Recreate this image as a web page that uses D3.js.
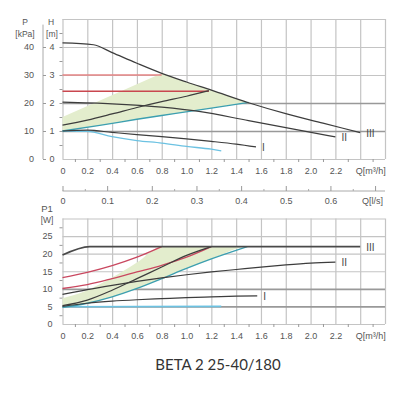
<!doctype html>
<html lang="en">
<head>
<meta charset="UTF-8">
<title>BETA 2 25-40/180</title>
<script src="https://cdn.jsdelivr.net/npm/d3@7"></script>
<style>
  body { margin: 0; background: #fff; }
  svg text { font-family: "Liberation Sans", Arial, sans-serif; }
  svg text.title { font-family: Lato, "Open Sans", sans-serif; }
</style>
</head>
<body>
<script>
  // tick values / labels
  var qTicks = [0, 0.2, 0.4, 0.6, 0.8, 1.0, 1.2, 1.4, 1.6, 1.8, 2.0, 2.2, 2.4];
  var qLabels = ["0", "0.2", "0.4", "0.6", "0.8", "1.0", "1.2", "1.4", "1.6", "1.8", "2.0", "2.2", "Q[m\u00b3/h]"];
  var lsTicks = [0, 0.1, 0.2, 0.3, 0.4, 0.5, 0.6, 0.7];
  var lsLabels = ["0", "0.1", "0.2", "0.3", "0.4", "0.5", "0.6", "Q[l/s]"];
  var hTicks = [0, 1, 2, 3, 4];
  var kpaTicks = [0, 10, 20, 30, 40];
  var wTicks = [0, 5, 10, 15, 20, 25];
  var curveNames = ["I", "II", "III"];

  // head curves H [m] vs Q [m3/h]
  var headIII = [[0, 4.15], [0.25, 4.08], [0.4, 3.8], [0.6, 3.42], [0.8, 3.06], [1.0, 2.75], [1.2, 2.46], [1.5, 2.01], [1.8, 1.62], [2.1, 1.28], [2.4, 0.94]];
  var headII = [[0, 2.03], [0.4, 1.97], [0.8, 1.85], [1.1, 1.7], [1.5, 1.37], [1.8, 1.12], [2.2, 0.79]];
  var headI = [[0, 1.0], [0.2, 1.03], [0.4, 0.95], [0.6, 0.87], [0.8, 0.8], [1.0, 0.72], [1.2, 0.63], [1.4, 0.53], [1.56, 0.43]];
  var headMin = [[0, 1.0], [0.2, 0.99], [0.4, 0.8], [0.6, 0.66], [0.8, 0.57], [1.0, 0.45], [1.2, 0.35], [1.28, 0.29]];
  var headCp1 = [[0, 3.0], [0.8, 3.0]];
  var headCp2 = [[0, 2.42], [1.18, 2.42]];
  var headPp1 = [[0, 1.21], [0.2, 1.39], [0.4, 1.61], [0.6, 1.84], [0.8, 2.05], [1.0, 2.24], [1.18, 2.44]];
  var headPp2 = [[0, 1.0], [0.3, 1.2], [0.6, 1.42], [0.9, 1.62], [1.2, 1.82], [1.5, 2.02]];
  var headZoneEdge = [[0, 1.5], [0.8, 3.06]];

  // power curves P1 [W] vs Q [m3/h]
  var powerIII = [[0, 19.6], [0.22, 22], [2.4, 22]];
  var powerII = [[0, 8.4], [0.2, 9.8], [0.4, 11.0], [0.6, 12.1], [0.8, 13.1], [1.0, 14.0], [1.2, 14.8], [1.4, 15.5], [1.6, 16.2], [1.8, 16.8], [2.0, 17.3], [2.2, 17.6]];
  var powerI = [[0, 5.0], [0.2, 5.9], [0.4, 6.5], [0.6, 6.9], [0.8, 7.2], [1.0, 7.5], [1.2, 7.7], [1.4, 7.9], [1.57, 8.0]];
  var powerMin = [[0, 4.9], [1.28, 5.0]];
  var powerCp1 = [[0, 13.2], [0.2, 14.7], [0.4, 16.6], [0.6, 19.0], [0.8, 22]];
  var powerCp2 = [[0, 10.1], [0.2, 11.2], [0.4, 12.9], [0.6, 14.8], [0.8, 16.7], [1.0, 19.0], [1.2, 22]];
  var powerPp1 = [[0, 5.2], [0.2, 6.8], [0.4, 9.6], [0.6, 12.9], [0.8, 16.2], [1.0, 19.5], [1.2, 22]];
  var powerPp2 = [[0, 4.7], [0.2, 5.9], [0.4, 7.7], [0.6, 10.1], [0.8, 12.9], [1.0, 15.8], [1.2, 18.5], [1.49, 22]];
  var powerZoneEdge = [[0, 7.3], [0.2, 9.6], [0.4, 13.2], [0.6, 17.5], [0.8, 22]];

  var W = 393, H = 400;
  var svg = d3.select("body").append("svg").attr("width", W).attr("height", H);

  var x = d3.scaleLinear().domain([0, 2.6]).range([62.5, 385]);
  var xls = d3.scaleLinear().domain([0, 2.6 / 3.6]).range([62.5, 385]);
  var yH = d3.scaleLinear().domain([0, 5]).range([159, 19]);
  var yKpa = d3.scaleLinear().domain([0, 50]).range([159, 19]);
  var yW = d3.scaleLinear().domain([0, 30]).range([324, 218.5]);

  var gridQ = d3.range(0, 2.61, 0.2);
  var minorQ = d3.range(0.1, 2.6, 0.2);

  function grid(yScale, yTicks, darkTicks, yTop, yBot) {
    var g = svg.append("g");
    // vertical
    g.append("g").attr("transform", "translate(0," + yBot + ")")
      .call(d3.axisBottom(x).tickValues(gridQ).tickSize(-(yBot - yTop)).tickFormat(""))
      .call(function (s) { s.select(".domain").remove(); })
      .selectAll("line").attr("stroke", "#c4c4c4").attr("stroke-width", 1.2);
    // horizontal
    g.append("g").attr("transform", "translate(" + x(0) + ",0)")
      .call(d3.axisLeft(yScale).tickValues(yTicks).tickSize(-(x(2.6) - x(0))).tickFormat(""))
      .call(function (s) { s.select(".domain").remove(); })
      .selectAll("line")
      .attr("stroke", function (d) { return darkTicks.indexOf(d) >= 0 ? "#999" : "#c4c4c4"; })
      .attr("stroke-width", function (d) { return darkTicks.indexOf(d) >= 0 ? 1.7 : 1.2; });
    // minor ticks below x axis
    g.append("g").attr("transform", "translate(0," + yBot + ")")
      .call(d3.axisBottom(x).tickValues(minorQ).tickSize(3).tickFormat(""))
      .call(function (s) { s.select(".domain").remove(); })
      .selectAll("line").attr("stroke", "#999");
    return g;
  }

  function labelAxis(g) {
    g.select(".domain").remove();
    g.selectAll("text").attr("fill", "#555").attr("font-size", 9);
  }

  // the unit label at the end of the Q axes sits right of its tick
  function unitLabel(g, dx) {
    g.selectAll(".tick:last-of-type text").attr("dx", dx);
  }

  // ---------- top chart ----------
  grid(yH, [0, 1, 2, 3, 4, 5], [1, 2], 19, 159);

  svg.append("g").attr("transform", "translate(0,159)")
    .call(d3.axisBottom(x).tickValues(qTicks).tickSize(0).tickPadding(9)
      .tickFormat(function (d, i) { return qLabels[i]; }))
    .call(labelAxis)
    .call(unitLabel, 10);

  svg.append("g").attr("transform", "translate(" + x(0) + ",0)")
    .call(d3.axisLeft(yH).tickValues(hTicks).tickSize(0).tickPadding(8).tickFormat(d3.format("d")))
    .call(labelAxis);
  svg.append("g").attr("transform", "translate(" + x(0) + ",0)")
    .call(d3.axisLeft(yH).tickValues(d3.range(0.5, 5, 0.5)).tickSize(3).tickFormat(""))
    .call(function (s) { s.select(".domain").remove(); })
    .selectAll("line").attr("stroke", "#999");

  svg.append("g").attr("transform", "translate(43,0)")
    .call(d3.axisLeft(yKpa).tickValues(kpaTicks).tickSize(-3).tickPadding(9).tickFormat(d3.format("d")))
    .call(function (s) {
      s.select(".domain").attr("stroke", "#aaa").attr("d", "M0," + yKpa(48) + "V" + yKpa(0));
      s.selectAll("line").attr("stroke", "#999");
      s.selectAll("text").attr("fill", "#555").attr("font-size", 9);
    });

  svg.append("text").attr("x", 25).attr("y", 25).attr("text-anchor", "middle").attr("font-size", 8.5).attr("fill", "#555").text("P");
  svg.append("text").attr("x", 25).attr("y", 37).attr("text-anchor", "middle").attr("font-size", 8.5).attr("fill", "#555").text("[kPa]");
  svg.append("text").attr("x", 51).attr("y", 25).attr("text-anchor", "middle").attr("font-size", 8.5).attr("fill", "#555").text("H");
  svg.append("text").attr("x", 52).attr("y", 37).attr("text-anchor", "middle").attr("font-size", 8.5).attr("fill", "#555").text("[m]");

  var lineH = d3.line().x(function (d) { return x(d[0]); }).y(function (d) { return yH(d[1]); }).curve(d3.curveMonotoneX);
  var lineW = d3.line().x(function (d) { return x(d[0]); }).y(function (d) { return yW(d[1]); }).curve(d3.curveMonotoneX);

  function zone(edge, maxCurve, lower, q0, q1) {
    var mid = maxCurve.filter(function (d) { return d[0] > q0 && d[0] < q1; });
    return edge.concat(mid, lower.slice().reverse());
  }

  svg.append("path").datum(zone(headZoneEdge, headIII, headPp2, 0.8, 1.5))
    .attr("d", d3.line().x(function (d) { return x(d[0]); }).y(function (d) { return yH(d[1]); }))
    .attr("fill", "#e3edcd").attr("stroke", "none");

  function draw(data, line, color, width) {
    svg.append("path").datum(data).attr("d", line)
      .attr("fill", "none").attr("stroke", color).attr("stroke-width", width || 1.2);
  }

  draw(headCp1, lineH, "#e58585", 1.3);
  draw(headCp2, lineH, "#c9474f", 1.4);
  draw(headMin, lineH, "#6cc2e2", 1.3);
  draw(headPp2, lineH, "#3c9fb0", 1.3);
  draw(headPp1, lineH, "#3d3d3d", 1.2);
  draw(headI, lineH, "#3d3d3d", 1.2);
  draw(headII, lineH, "#3d3d3d", 1.2);
  draw(headIII, lineH, "#3d3d3d", 1.2);

  [headI, headII, headIII].forEach(function (c, i) {
    var e = c[c.length - 1];
    svg.append("text").attr("x", x(e[0]) + 6).attr("y", yH(e[1]) + 4)
      .attr("font-size", 10).attr("fill", "#444").text(curveNames[i]);
  });

  // ---------- l/s axis ----------
  svg.append("g").attr("transform", "translate(0,191)")
    .call(d3.axisBottom(xls).tickValues(lsTicks).tickSize(-5).tickPadding(7)
      .tickFormat(function (d, i) { return lsLabels[i]; }))
    .call(function (s) {
      s.select(".domain").attr("stroke", "#aaa").attr("d", "M" + x(0) + ",0H" + x(2.6));
      s.selectAll("line").attr("stroke", "#999");
      s.selectAll("text").attr("fill", "#555").attr("font-size", 9);
    })
    .call(unitLabel, -3);
  svg.append("g").attr("transform", "translate(0,191)")
    .call(d3.axisBottom(xls).tickValues(d3.range(0.05, 0.72, 0.1)).tickSize(-2).tickFormat(""))
    .call(function (s) { s.select(".domain").remove(); })
    .selectAll("line").attr("stroke", "#aaa");

  // ---------- bottom chart ----------
  grid(yW, [0, 5, 10, 15, 20, 25, 30], [5, 10], 218.5, 324);

  svg.append("g").attr("transform", "translate(0,324)")
    .call(d3.axisBottom(x).tickValues(qTicks).tickSize(0).tickPadding(9)
      .tickFormat(function (d, i) { return qLabels[i]; }))
    .call(labelAxis)
    .call(unitLabel, 10);

  svg.append("g").attr("transform", "translate(" + x(0) + ",0)")
    .call(d3.axisLeft(yW).tickValues(wTicks).tickSize(0).tickPadding(10).tickFormat(d3.format("d")))
    .call(labelAxis);
  svg.append("g").attr("transform", "translate(" + x(0) + ",0)")
    .call(d3.axisLeft(yW).tickValues(d3.range(2.5, 30, 5)).tickSize(3).tickFormat(""))
    .call(function (s) { s.select(".domain").remove(); })
    .selectAll("line").attr("stroke", "#999");

  svg.append("text").attr("x", 47).attr("y", 212).attr("text-anchor", "middle").attr("font-size", 9.5).attr("fill", "#555").text("P1");
  svg.append("text").attr("x", 47).attr("y", 223).attr("text-anchor", "middle").attr("font-size", 8.5).attr("fill", "#555").text("[W]");

  svg.append("path").datum(zone(powerZoneEdge, powerIII, powerPp2, 0.8, 1.49))
    .attr("d", d3.line().x(function (d) { return x(d[0]); }).y(function (d) { return yW(d[1]); }).curve(d3.curveMonotoneX))
    .attr("fill", "#e3edcd").attr("stroke", "none");

  draw(powerMin, lineW, "#6cc2e2", 1.6);
  draw(powerCp1, lineW, "#c9475f", 1.3);
  draw(powerCp2, lineW, "#c9475f", 1.3);
  draw(powerPp2, lineW, "#3c9fb0", 1.3);
  draw(powerPp1, lineW, "#3d3d3d", 1.2);
  draw(powerI, lineW, "#3d3d3d", 1.2);
  draw(powerII, lineW, "#3d3d3d", 1.2);
  draw(powerIII, lineW, "#4a4a4a", 1.6);

  [powerI, powerII, powerIII].forEach(function (c, i) {
    var e = c[c.length - 1];
    svg.append("text").attr("x", x(e[0]) + 6).attr("y", yW(e[1]) + 4)
      .attr("font-size", 10).attr("fill", "#444").text(curveNames[i]);
  });

  // title
  svg.append("text").attr("class", "title").attr("x", 218).attr("y", 370).attr("text-anchor", "middle")
    .attr("font-size", 15).attr("fill", "#333")
    .text("BETA 2 25-40/180");
</script>
</body>
</html>
